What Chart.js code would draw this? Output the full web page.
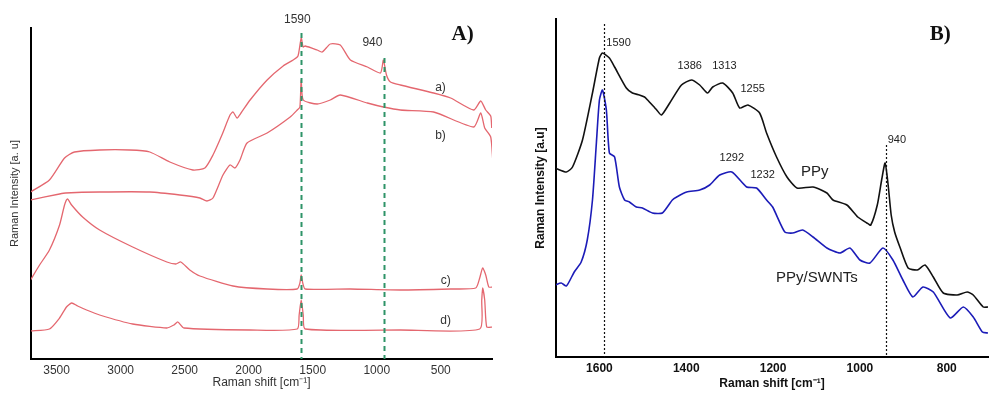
<!DOCTYPE html>
<html>
<head>
<meta charset="utf-8">
<script src="https://cdn.jsdelivr.net/npm/chart.js@4/dist/chart.umd.min.js"></script>
<style>
  body { margin: 0; background: #fff; }
  .panel { position: absolute; top: 0; height: 399px; width: 500px; }
  #boxA { left: 0; }
  #boxB { left: 500px; }
</style>
</head>
<body>
<div class="panel" id="boxA"><canvas id="chartA"></canvas></div>
<div class="panel" id="boxB"><canvas id="chartB"></canvas></div>
<script>
// panel A - four spectra a) to d), shift in cm-1, intensity in a.u.
const ticksA = [3500, 3000, 2500, 2000, 1500, 1000, 500];
const shiftA1 = [3704, 3556, 3438, 3360, 3164, 2929, 2772, 2616, 2436, 2342, 2279, 2209, 2146, 2122, 2091, 2060, 1989, 1856, 1731, 1653, 1615, 1590, 1575, 1559, 1465, 1426, 1363, 1285, 1206, 1073, 971, 948, 924, 893, 815, 556, 423, 243, 188, 149, 110, 102];
const specA1 = [167, 179, 201, 207, 209, 209, 207, 197, 189, 191, 204, 224, 244, 247, 241, 246, 259, 279, 293, 299, 303, 321, 312, 313, 309, 307, 315, 314, 299, 292, 286, 299, 284, 277, 274, 266, 261, 249, 258, 249, 243, 231];
const shiftA2 = [3704, 3477, 3430, 3164, 2772, 2538, 2381, 2326, 2279, 2201, 2146, 2107, 2068, 2013, 1856, 1676, 1621, 1600, 1590, 1574, 1465, 1363, 1285, 1073, 948, 815, 556, 243, 188, 157, 110, 94];
const specA2 = [159, 165, 166, 167, 167, 164, 161, 158, 161, 184, 194, 191, 199, 216, 226, 242, 249, 252, 279, 259, 255, 259, 264, 256, 252, 249, 247, 232, 246, 231, 222, 199];
const shiftA3 = [3704, 3633, 3556, 3477, 3438, 3415, 3383, 3297, 3164, 2906, 2639, 2569, 2530, 2460, 2381, 2122, 1856, 1621, 1600, 1590, 1578, 1559, 1206, 815, 423, 227, 196, 173, 149, 125, 94];
const specA3 = [79, 94, 109, 134, 154, 160, 154, 142, 129, 112, 97, 95, 97, 89, 83, 73, 70, 70, 76, 84, 76, 70, 70, 69, 70, 71, 81, 91, 84, 72, 72];
const shiftA4 = [3704, 3556, 3477, 3423, 3383, 3336, 3266, 3164, 2906, 2639, 2584, 2553, 2506, 1989, 1621, 1606, 1590, 1574, 1559, 815, 196, 180, 173, 157, 141, 94];
const specA4 = [28, 30, 41, 52, 56, 53, 49, 44, 35, 31, 34, 37, 31, 29, 30, 44, 59, 44, 30, 29, 30, 59, 71, 59, 32, 32];

// panel B - PPy and PPy/SWNTs
const ticksB = [1600, 1400, 1200, 1000, 800];
const shiftB = [1702, 1676, 1662, 1639, 1616, 1600, 1593, 1577, 1565, 1538, 1524, 1508, 1496, 1489, 1468, 1457, 1438, 1411, 1388, 1369, 1351, 1339, 1316, 1293, 1277, 1258, 1231, 1215, 1192, 1168, 1145, 1108, 1076, 1062, 1030, 1005, 984, 975, 960, 950, 942, 935, 928, 920, 908, 889, 868, 850, 831, 808, 776, 753, 739, 716, 705];
const ppy = [189, 185, 190, 217, 264, 299, 304, 299, 290, 269, 264, 262, 260, 257, 247, 242, 254, 272, 277, 272, 264, 270, 274, 264, 249, 252, 244, 224, 200, 180, 169, 170, 164, 157, 152, 140, 134, 132, 152, 177, 194, 172, 142, 125, 110, 89, 87, 92, 80, 64, 62, 65, 62, 50, 50];
const shiftB2 = [1702, 1688, 1676, 1658, 1642, 1628, 1616, 1607, 1600, 1593, 1584, 1577, 1565, 1554, 1542, 1531, 1515, 1501, 1478, 1455, 1432, 1422, 1399, 1369, 1346, 1323, 1295, 1261, 1238, 1215, 1201, 1173, 1155, 1132, 1108, 1076, 1046, 1023, 1000, 977, 947, 924, 901, 878, 855, 831, 792, 762, 739, 718, 705];
const ppySwnt = [72, 74, 71, 85, 95, 117, 157, 214, 257, 267, 247, 204, 200, 170, 157, 155, 150, 149, 144, 144, 157, 160, 165, 167, 172, 182, 185, 170, 169, 157, 150, 125, 124, 127, 120, 109, 104, 109, 97, 94, 109, 97, 77, 60, 70, 65, 39, 50, 40, 25, 24];

const pts = (xs, ys) => xs.map((v, i) => ({ x: v, y: ys[i] }));

// dashed marker lines + text labels, placed in data units
const notes = {
  id: "notes",
  afterDatasetsDraw(chart, args, opts) {
    const { ctx, scales: { x, y } } = chart;
    ctx.save();
    opts.lines.forEach((l) => {
      const px = Math.round(x.getPixelForValue(l.at)) + 0.5;
      ctx.strokeStyle = l.color;
      ctx.lineWidth = l.width;
      ctx.setLineDash(l.dash);
      ctx.beginPath();
      ctx.moveTo(px, y.getPixelForValue(l.from));
      ctx.lineTo(px, y.bottom);
      ctx.stroke();
    });
    ctx.setLineDash([]);
    opts.texts.forEach((t) => {
      ctx.font = t.font;
      ctx.fillStyle = t.color || "#222";
      ctx.textAlign = t.align || "center";
      ctx.textBaseline = "middle";
      ctx.fillText(t.text, x.getPixelForValue(t.x), y.getPixelForValue(t.y));
    });
    ctx.restore();
  },
};

function makeScales(cfg) {
  return {
    x: {
      type: "linear",
      reverse: true,
      min: cfg.xmin,
      max: cfg.xmax,
      afterFit: (s) => { s.height = cfg.xh; },
      afterBuildTicks: (s) => { s.ticks = cfg.ticks.map((v) => ({ value: v })); },
      grid: { display: false, drawTicks: false },
      border: { display: true, color: "#000", width: 2 },
      ticks: {
        padding: 4,
        maxRotation: 0,
        autoSkip: false,
        color: cfg.tickColor,
        font: { family: "Liberation Sans", size: 12, weight: cfg.weight },
        callback: (v) => String(v),
      },
      title: {
        display: true,
        text: "Raman shift [cm\u207B\u00B9]",
        color: cfg.tickColor,
        font: { family: "Liberation Sans", size: 12, weight: cfg.weight },
        padding: { top: 0, bottom: cfg.tpad },
      },
    },
    y: {
      min: 0,
      max: cfg.ymax,
      afterFit: (s) => { s.width = cfg.yw; },
      grid: { display: false, drawTicks: false },
      border: { display: true, color: "#000", width: 2 },
      ticks: { display: false },
      title: {
        display: true,
        text: cfg.ytitle,
        color: cfg.tickColor,
        font: { family: "Liberation Sans", size: cfg.ysize, weight: cfg.weight },
        padding: { top: cfg.ypad, bottom: 0 },
      },
    },
  };
}

const redLine = { borderColor: "#e4676f", borderWidth: 1.3, pointRadius: 0, tension: 0.2, fill: false };

new Chart(document.getElementById("chartA"), {
  type: "line",
  data: {
    datasets: [
      { label: "a)", data: pts(shiftA1, specA1), ...redLine },
      { label: "b)", data: pts(shiftA2, specA2), ...redLine },
      { label: "c)", data: pts(shiftA3, specA3), ...redLine },
      { label: "d)", data: pts(shiftA4, specA4), ...redLine },
    ],
  },
  options: {
    responsive: true,
    maintainAspectRatio: false,
    animation: false,
    layout: { padding: { top: 28, right: 8, left: 0, bottom: 0 } },
    plugins: {
      legend: { display: false },
      tooltip: { enabled: false },
      notes: {
        lines: [
          { at: 1590, from: 326, color: "#2e9468", width: 2, dash: [5, 4] },
          { at: 940, from: 301, color: "#2e9468", width: 2, dash: [5, 4] },
        ],
        texts: [
          { text: "1590", x: 1620, y: 339, font: "12px 'Liberation Sans'", color: "#333" },
          { text: "940", x: 1034, y: 316, font: "12px 'Liberation Sans'", color: "#333" },
          { text: "a)", x: 502, y: 271, font: "12px 'Liberation Sans'", color: "#333" },
          { text: "b)", x: 502, y: 223, font: "12px 'Liberation Sans'", color: "#333" },
          { text: "c)", x: 462, y: 78, font: "12px 'Liberation Sans'", color: "#333" },
          { text: "d)", x: 462, y: 38, font: "12px 'Liberation Sans'", color: "#333" },
          { text: "A)", x: 329, y: 324, font: "bold 21px 'Liberation Serif'", color: "#111" },
        ],
      },
    },
    scales: makeScales({
      xmin: 100, xmax: 3700, ticks: ticksA, xh: 40, yw: 31, ymax: 331, tpad: 9,
      ytitle: "Raman Intensity [a. u]", ysize: 11, ypad: 8,
      tickColor: "#333", weight: "normal",
    }),
  },
  plugins: [notes],
});

new Chart(document.getElementById("chartB"), {
  type: "line",
  data: {
    datasets: [
      { label: "PPy", data: pts(shiftB, ppy), borderColor: "#111", borderWidth: 1.6, pointRadius: 0, tension: 0.2 },
      { label: "PPy/SWNTs", data: pts(shiftB2, ppySwnt), borderColor: "#1c1cb8", borderWidth: 1.6, pointRadius: 0, tension: 0.2 },
    ],
  },
  options: {
    responsive: true,
    maintainAspectRatio: false,
    animation: false,
    layout: { padding: { top: 19, right: 12, left: 0, bottom: 0 } },
    plugins: {
      legend: { display: false },
      tooltip: { enabled: false },
      notes: {
        lines: [
          { at: 1590, from: 333, color: "#111", width: 1.2, dash: [2, 2] },
          { at: 940, from: 212, color: "#111", width: 1.2, dash: [2, 2] },
        ],
        texts: [
          { text: "1590", x: 1584, y: 314, align: "left", font: "11px 'Liberation Sans'" },
          { text: "1386", x: 1392, y: 291, font: "11px 'Liberation Sans'" },
          { text: "1313", x: 1312, y: 291, font: "11px 'Liberation Sans'" },
          { text: "1255", x: 1247, y: 268, font: "11px 'Liberation Sans'" },
          { text: "1292", x: 1295, y: 199, font: "11px 'Liberation Sans'" },
          { text: "1232", x: 1224, y: 182, font: "11px 'Liberation Sans'" },
          { text: "940", x: 915, y: 217, font: "11px 'Liberation Sans'" },
          { text: "PPy", x: 1104, y: 185, font: "15px 'Liberation Sans'" },
          { text: "PPy/SWNTs", x: 1099, y: 79, font: "15px 'Liberation Sans'" },
          { text: "B)", x: 815, y: 322, font: "bold 21px 'Liberation Serif'", color: "#111" },
        ],
      },
    },
    scales: makeScales({
      xmin: 705, xmax: 1700, ticks: ticksB, xh: 42, yw: 56, ymax: 338, tpad: 8,
      ytitle: "Raman Intensity [a.u]", ysize: 12, ypad: 33,
      tickColor: "#111", weight: "bold",
    }),
  },
  plugins: [notes],
});
</script>
</body>
</html>
